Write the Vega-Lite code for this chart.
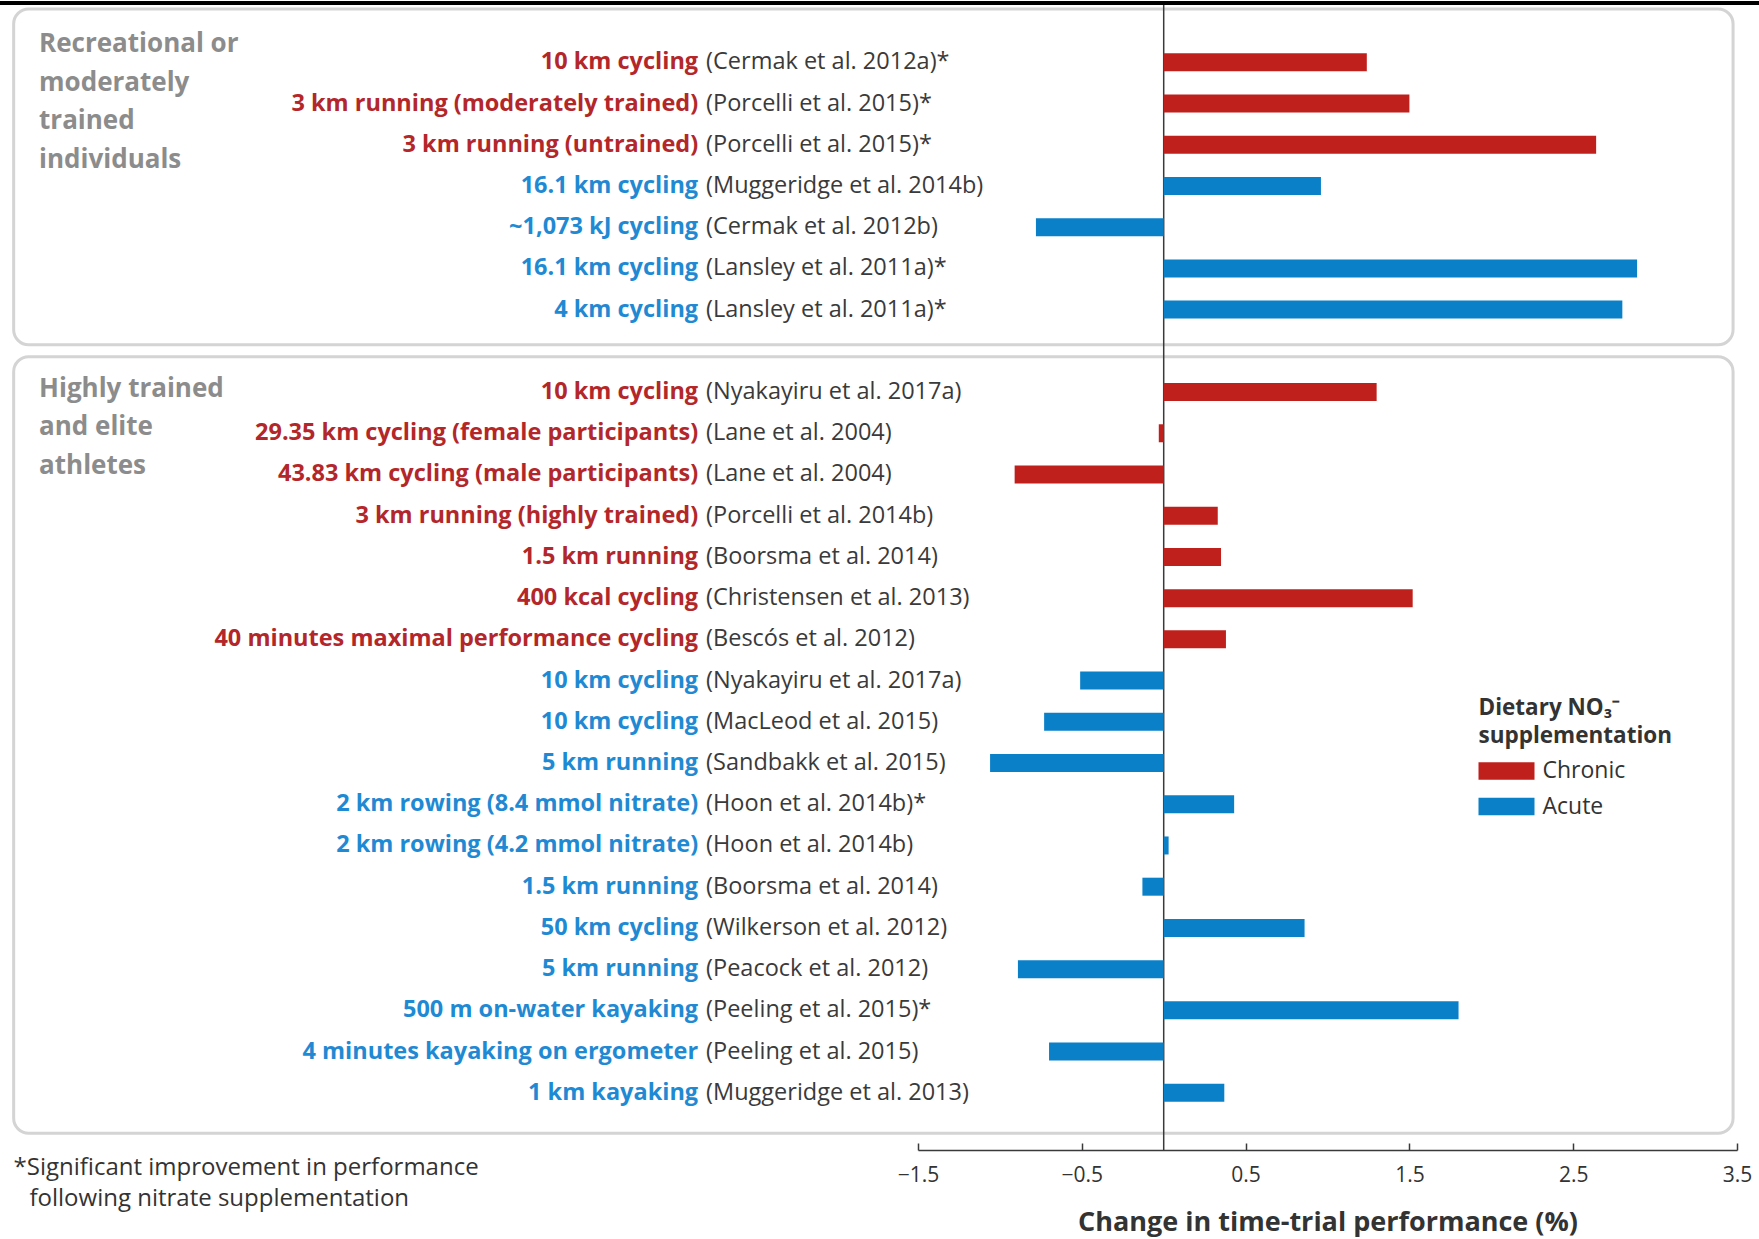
{
  "$schema": "https://vega.github.io/schema/vega-lite/v6.json",
  "autosize": {"type": "none"},
  "padding": {"left": 918, "top": 3, "right": 22, "bottom": 89},
  "width": 819,
  "height": 1147,
  "background": "white",
  "config": {"view": {"stroke": null}, "font": "Open Sans"},
  "title": {
    "text": ["*Significant improvement in performance", "\u200b\u2002\u2009following nitrate supplementation"],
    "orient": "bottom",
    "anchor": "start",
    "frame": "group",
    "dx": -904.5,
    "offset": -79,
    "font": "Open Sans",
    "fontSize": 24,
    "fontWeight": "normal",
    "color": "#333333",
    "lineHeight": 31,
    "baseline": "top",
    "limit": 800
  },
  "datasets": {
    "rows": [
      {"id": "r01", "group": "rec", "type": "Chronic", "activity": "10 km cycling", "citation": "(Cermak et al. 2012a)", "sig": "*", "value": 1.24},
      {"id": "r02", "group": "rec", "type": "Chronic", "activity": "3 km running (moderately trained)", "citation": "(Porcelli et al. 2015)", "sig": "*", "value": 1.50},
      {"id": "r03", "group": "rec", "type": "Chronic", "activity": "3 km running (untrained)", "citation": "(Porcelli et al. 2015)", "sig": "*", "value": 2.64},
      {"id": "r04", "group": "rec", "type": "Acute", "activity": "16.1 km cycling", "citation": "(Muggeridge et al. 2014b)", "sig": "", "value": 0.96},
      {"id": "r05", "group": "rec", "type": "Acute", "activity": "~1,073 kJ cycling", "citation": "(Cermak et al. 2012b)", "sig": "", "value": -0.78},
      {"id": "r06", "group": "rec", "type": "Acute", "activity": "16.1 km cycling", "citation": "(Lansley et al. 2011a)", "sig": "*", "value": 2.89},
      {"id": "r07", "group": "rec", "type": "Acute", "activity": "4 km cycling", "citation": "(Lansley et al. 2011a)", "sig": "*", "value": 2.80},
      {"id": "r08", "group": "elite", "type": "Chronic", "activity": "10 km cycling", "citation": "(Nyakayiru et al.  2017a)", "sig": "", "value": 1.30},
      {"id": "r09", "group": "elite", "type": "Chronic", "activity": "29.35 km cycling (female participants)", "citation": "(Lane et al. 2004)", "sig": "", "value": -0.03},
      {"id": "r10", "group": "elite", "type": "Chronic", "activity": "43.83 km cycling (male participants)", "citation": "(Lane et al. 2004)", "sig": "", "value": -0.91},
      {"id": "r11", "group": "elite", "type": "Chronic", "activity": "3 km running (highly trained)", "citation": "(Porcelli et al. 2014b)", "sig": "", "value": 0.33},
      {"id": "r12", "group": "elite", "type": "Chronic", "activity": "1.5 km running", "citation": "(Boorsma et al. 2014)", "sig": "", "value": 0.35},
      {"id": "r13", "group": "elite", "type": "Chronic", "activity": "400 kcal cycling", "citation": "(Christensen et al. 2013)", "sig": "", "value": 1.52},
      {"id": "r14", "group": "elite", "type": "Chronic", "activity": "40 minutes maximal performance cycling", "citation": "(Bescós et al. 2012)", "sig": "", "value": 0.38},
      {"id": "r15", "group": "elite", "type": "Acute", "activity": "10 km cycling", "citation": "(Nyakayiru et al. 2017a)", "sig": "", "value": -0.51},
      {"id": "r16", "group": "elite", "type": "Acute", "activity": "10 km cycling", "citation": "(MacLeod et al. 2015)", "sig": "", "value": -0.73},
      {"id": "r17", "group": "elite", "type": "Acute", "activity": "5 km running", "citation": "(Sandbakk et al. 2015)", "sig": "", "value": -1.06},
      {"id": "r18", "group": "elite", "type": "Acute", "activity": "2 km rowing (8.4 mmol nitrate)", "citation": "(Hoon et al. 2014b)", "sig": "*", "value": 0.43},
      {"id": "r19", "group": "elite", "type": "Acute", "activity": "2 km rowing (4.2 mmol nitrate)", "citation": "(Hoon et al. 2014b)", "sig": "", "value": 0.03},
      {"id": "r20", "group": "elite", "type": "Acute", "activity": "1.5 km running", "citation": "(Boorsma et al. 2014)", "sig": "", "value": -0.13},
      {"id": "r21", "group": "elite", "type": "Acute", "activity": "50 km cycling", "citation": "(Wilkerson et al. 2012)", "sig": "", "value": 0.86},
      {"id": "r22", "group": "elite", "type": "Acute", "activity": "5 km running", "citation": "(Peacock et al. 2012)", "sig": "", "value": -0.89},
      {"id": "r23", "group": "elite", "type": "Acute", "activity": "500 m on-water kayaking", "citation": "(Peeling et al. 2015)", "sig": "*", "value": 1.80},
      {"id": "r24", "group": "elite", "type": "Acute", "activity": "4 minutes kayaking on ergometer", "citation": "(Peeling et al. 2015)", "sig": "", "value": -0.70},
      {"id": "r25", "group": "elite", "type": "Acute", "activity": "1 km kayaking", "citation": "(Muggeridge et al. 2013)", "sig": "", "value": 0.37}
    ],
    "groups": [
      {"group": "rec", "first": "r01", "last": "r07", "heading": ["Recreational or", "moderately", "trained", "individuals"]},
      {"group": "elite", "first": "r08", "last": "r25", "heading": ["Highly trained", "and elite", "athletes"]}
    ]
  },
  "data": {"name": "rows"},
  "layer": [
    {
      "data": {"name": "groups"},
      "transform": [{"filter": "datum.group == 'rec'"}],
      "mark": {"type": "rect", "fill": "white", "stroke": "#d4d4d4", "strokeWidth": 3, "cornerRadius": 15, "yOffset": -44.3, "y2Offset": 26.2},
      "encoding": {
        "x": {"datum": -7.021},
        "x2": {"datum": 3.476},
        "y": {"field": "first", "type": "nominal", "bandPosition": 0, "axis": null},
        "y2": {"field": "last", "bandPosition": 1}
      }
    },
    {
      "data": {"name": "groups"},
      "transform": [{"filter": "datum.group == 'elite'"}],
      "mark": {"type": "rect", "fill": "white", "stroke": "#d4d4d4", "strokeWidth": 3, "cornerRadius": 15, "yOffset": -26.3, "y2Offset": 31.5},
      "encoding": {
        "x": {"datum": -7.021},
        "x2": {"datum": 3.476},
        "y": {"field": "first", "type": "nominal", "bandPosition": 0, "axis": null},
        "y2": {"field": "last", "bandPosition": 1}
      }
    },
    {
      "data": {"values": [{}]},
      "mark": {"type": "rule", "color": "#3a3a3a", "strokeWidth": 1.5},
      "encoding": {"x": {"datum": 0}}
    },
    {
      "data": {"values": [{}]},
      "mark": {"type": "rule", "color": "black", "strokeWidth": 4},
      "encoding": {"x": {"datum": -7.3}, "x2": {"datum": 3.8}, "y": {"value": 0}}
    },
    {
      "mark": {"type": "bar"},
      "encoding": {
        "y": {
          "field": "id",
          "type": "nominal",
          "scale": {
            "domain": ["r01", "r02", "r03", "r04", "r05", "r06", "r07", "gap", "r08", "r09", "r10", "r11", "r12", "r13", "r14", "r15", "r16", "r17", "r18", "r19", "r20", "r21", "r22", "r23", "r24", "r25", "end"],
            "paddingInner": 0.5633,
            "paddingOuter": 0.6947,
            "align": 0.878
          },
          "axis": null
        },
        "x": {
          "field": "value",
          "type": "quantitative",
          "title": "Change in time-trial performance (%)",
          "scale": {"domain": [-1.5, 3.5], "nice": false, "zero": false},
          "axis": {
            "values": [-1.5, -0.5, 0.5, 1.5, 2.5, 3.5],
            "format": ".1f",
            "grid": false,
            "labelFlush": false,
            "domainColor": "#3a3a3a",
            "domainWidth": 1.5,
            "tickColor": "#3a3a3a",
            "tickWidth": 1.5,
            "tickSize": -7,
            "labelFont": "Open Sans",
            "labelFontSize": 21,
            "labelColor": "#333333",
            "labelPadding": 21,
            "titleFont": "Open Sans",
            "titleFontSize": 27,
            "titleFontWeight": "bold",
            "titleColor": "#333333",
            "titlePadding": 24
          }
        },
        "x2": {"datum": 0},
        "color": {
          "field": "type",
          "type": "nominal",
          "scale": {"domain": ["Chronic", "Acute"], "range": ["#c0201c", "#0a80c8"]},
          "legend": {
            "orient": "none",
            "legendX": 560.5,
            "legendY": 694,
            "title": ["Dietary NO₃⁻", "supplementation"],
            "titleFont": "Open Sans",
            "titleFontSize": 22.5,
            "titleFontWeight": "bold",
            "titleColor": "#333333",
            "titleLineHeight": 27.5,
            "titlePadding": 10,
            "titleLimit": 400,
            "labelFont": "Open Sans",
            "labelFontSize": 23,
            "labelColor": "#333333",
            "labelOffset": 22,
            "labelLimit": 300,
            "symbolType": "M-2,-0.62L2,-0.62L2,0.62L-2,0.62Z",
            "symbolSize": 784,
            "symbolOffset": 14,
            "symbolStrokeWidth": 0,
            "symbolOpacity": 1,
            "rowPadding": 9.5,
            "padding": 0
          }
        }
      }
    },
    {
      "mark": {"type": "text", "align": "right", "baseline": "middle", "font": "Open Sans", "fontSize": 23.5, "fontWeight": "bold", "dx": -4},
      "encoding": {
        "y": {"field": "id", "type": "nominal", "axis": null},
        "x": {"datum": -2.818},
        "text": {"field": "activity"},
        "fill": {"field": "type", "type": "nominal", "scale": {"domain": ["Chronic", "Acute"], "range": ["#b3272a", "#1f8ad3"]}, "legend": null}
      }
    },
    {
      "transform": [{"calculate": "datum.citation + datum.sig", "as": "cite"}],
      "mark": {"type": "text", "align": "left", "baseline": "middle", "font": "Open Sans", "fontSize": 23.5, "fill": "#3a3a3a", "dx": 4},
      "encoding": {
        "y": {"field": "id", "type": "nominal", "axis": null},
        "x": {"datum": -2.818},
        "text": {"field": "cite"}
      }
    },
    {
      "data": {"name": "groups"},
      "transform": [{"filter": "datum.group == 'rec'"}],
      "mark": {"type": "text", "align": "left", "baseline": "top", "font": "Open Sans", "fontSize": 26, "fontWeight": "bold", "color": "#8c8c8c", "lineHeight": 38.5, "dy": -21.8},
      "encoding": {
        "x": {"datum": -6.866},
        "y": {"field": "first", "type": "nominal", "bandPosition": 0, "axis": null},
        "text": {"field": "heading"}
      }
    },
    {
      "data": {"name": "groups"},
      "transform": [{"filter": "datum.group == 'elite'"}],
      "mark": {"type": "text", "align": "left", "baseline": "top", "font": "Open Sans", "fontSize": 26, "fontWeight": "bold", "color": "#8c8c8c", "lineHeight": 38.5, "dy": -7.3},
      "encoding": {
        "x": {"datum": -6.866},
        "y": {"field": "first", "type": "nominal", "bandPosition": 0, "axis": null},
        "text": {"field": "heading"}
      }
    }
  ]
}
